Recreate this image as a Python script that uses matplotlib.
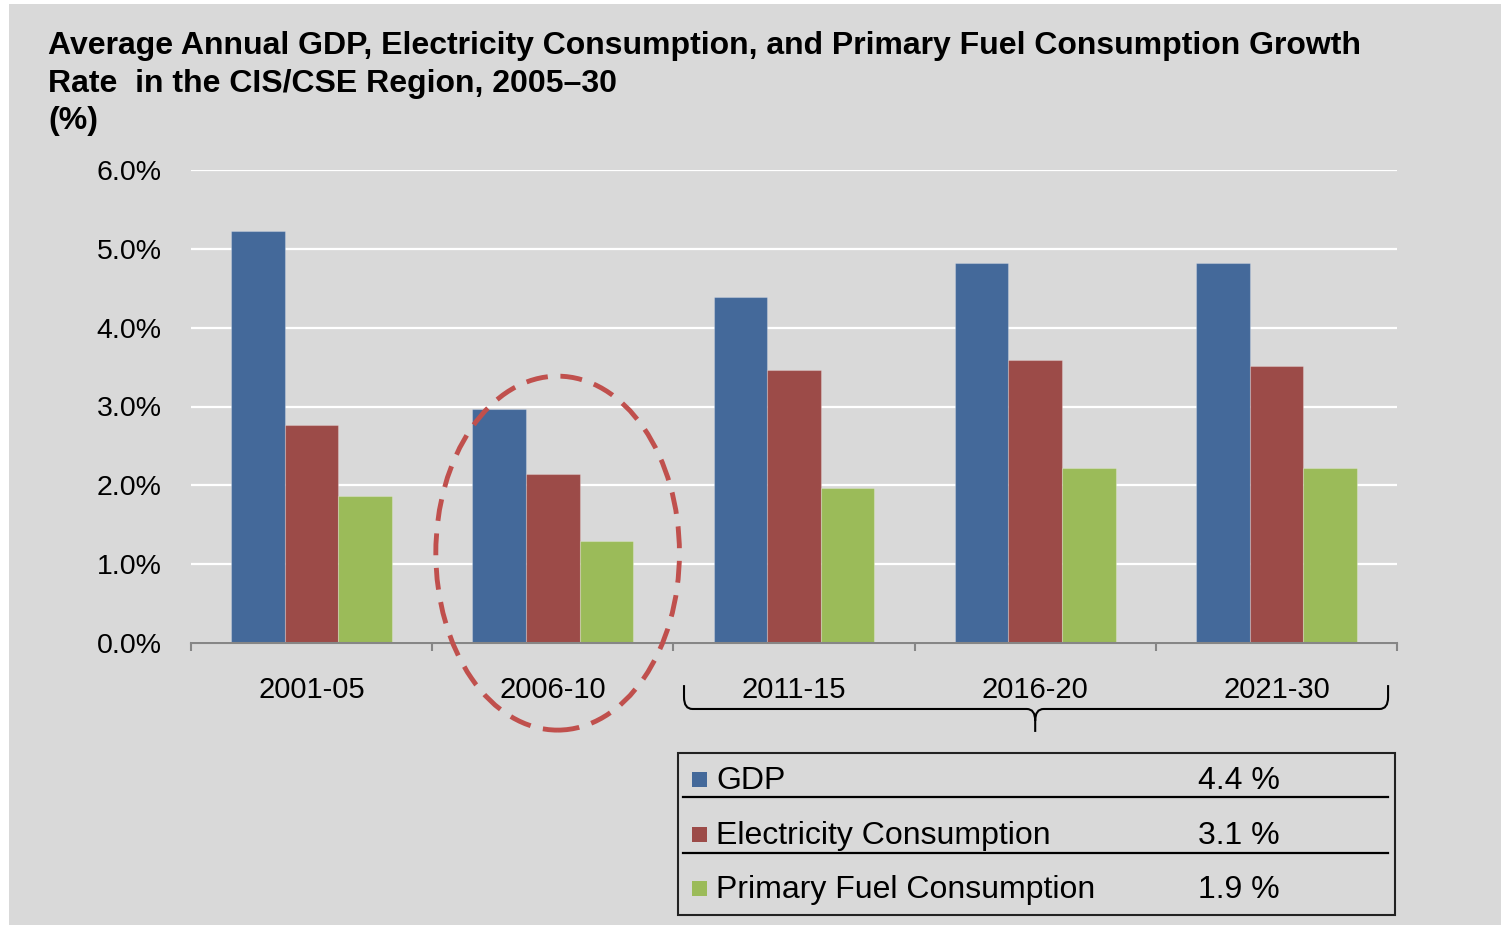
import matplotlib
matplotlib.use("Agg")
import matplotlib.pyplot as plt
import numpy as np
from matplotlib.patches import Rectangle, Ellipse, PathPatch
from matplotlib.path import Path
import matplotlib.transforms as mtransforms

# ---------------- data ----------------
periods = ["2001-05", "2006-10", "2011-15", "2016-20", "2021-30"]
gdp = [5.22, 2.97, 4.39, 4.82, 4.82]
electricity = [2.77, 2.14, 3.46, 3.59, 3.52]
primary_fuel = [1.87, 1.29, 1.97, 2.22, 2.22]
series_names = ["GDP", "Electricity Consumption", "Primary Fuel Consumption"]
avg_2011_30 = [4.4, 3.1, 1.9]
yticks = [0, 1, 2, 3, 4, 5, 6]

colors = ["#44699a", "#9c4b48", "#9bbb59"]
BG = "#d9d9d9"
W, H = 1501, 925

plt.rcParams['font.family'] = ['Liberation Sans', 'DejaVu Sans']

fig = plt.figure(figsize=(W / 100, H / 100), dpi=100, facecolor="white")

def fx(x):
    return x / W

def fy(y):
    return 1 - y / H

# gray background panel
fig.patches.append(Rectangle((fx(9), fy(925)), fx(1501) - fx(9), fy(4) - fy(925),
                             transform=fig.transFigure, facecolor=BG, edgecolor="none", zorder=-10))

# axes
ax_l, ax_r, ax_t, ax_b = 191, 1397, 170, 643
ax = fig.add_axes([fx(ax_l), fy(ax_b), fx(ax_r) - fx(ax_l), (ax_b - ax_t) / H])
ax.set_facecolor("none")
ax.set_zorder(2)

x = np.arange(len(periods))
bw = 0.222
for i, (vals, c) in enumerate(zip([gdp, electricity, primary_fuel], colors)):
    ax.bar(x + (i - 1) * bw, vals, width=bw, color=c, edgecolor=(1, 1, 1, 0.25),
           linewidth=0.8, zorder=3)

ax.set_xlim(-0.5, len(periods) - 0.5)
ax.set_ylim(0, 6)
ax.set_yticks(yticks)
ax.set_yticklabels([f"{v:.1f}%" for v in yticks], fontsize=20.5)
ax.tick_params(axis="y", length=0, pad=21)
ax.grid(axis="y", color="white", linewidth=1.6, zorder=1)
ax.set_axisbelow(True)

ax.set_xticks(np.arange(-0.5, len(periods), 1.0))
ax.set_xticklabels([])
ax.set_xticks(x, minor=True)
ax.set_xticklabels(periods, minor=True, fontsize=21)
ax.tick_params(axis="x", which="major", length=6, width=1.5, color="#868686", direction="out")
ax.tick_params(axis="x", which="minor", length=0, pad=23.5)

for s in ["top", "right", "left"]:
    ax.spines[s].set_visible(False)
ax.spines["bottom"].set_color("#868686")
ax.spines["bottom"].set_linewidth(1.5)
ax.spines["bottom"].set_zorder(4)

# dashed ellipse highlighting 2006-10
ell = Ellipse((1.02, 1.14), width=1.01, height=4.49, fill=False, edgecolor="#c0504d",
              linewidth=3.5, linestyle=(0, (4.5, 2.6)), clip_on=False, zorder=5)
ax.add_patch(ell)

# brace under 2011-30
trans = mtransforms.blended_transform_factory(ax.transData, ax.transAxes)
x0, x1, xm = 1.544, 4.463, 3.0
yt, yh, ytip = -0.089, -0.1395, -0.188
dx = 0.035
dy = 0.025
verts = [(x0, yt), (x0, yh + dy), (x0, yh), (x0 + dx, yh),
         (xm - dx, yh), (xm, yh), (xm, yh - dy), (xm, ytip),
         (xm, yh - dy), (xm, yh), (xm + dx, yh),
         (x1 - dx, yh), (x1, yh), (x1, yh + dy), (x1, yt)]
codes = [Path.MOVETO, Path.LINETO, Path.CURVE3, Path.CURVE3,
         Path.LINETO, Path.CURVE3, Path.CURVE3, Path.LINETO,
         Path.MOVETO, Path.CURVE3, Path.CURVE3,
         Path.LINETO, Path.CURVE3, Path.CURVE3, Path.LINETO]
brace = PathPatch(Path(verts, codes), transform=trans, fill=False, edgecolor="black",
                  linewidth=1.5, clip_on=False, zorder=5)
ax.add_patch(brace)

# title
fig.text(fx(48), fy(31), "Average Annual GDP, Electricity Consumption, and Primary Fuel Consumption Growth\n"
         "Rate  in the CIS/CSE Region, 2005\u201330\n(%)",
         fontsize=23, fontweight="bold", ha="left", va="top", linespacing=1.33)

# legend table
fig.patches.append(Rectangle((fx(678), fy(915)), fx(1395) - fx(678), fy(753) - fy(915),
                             transform=fig.transFigure, facecolor="none", edgecolor="#222222",
                             linewidth=1.5, zorder=3))
row_y = [781, 836, 890]
sep_y = [797, 853]
for sy in sep_y:
    fig.add_artist(plt.Line2D([fx(683), fx(1388)], [fy(sy), fy(sy)], transform=fig.transFigure,
                              color="black", linewidth=1.6))
for name, val, c, ry in zip(series_names, avg_2011_30, colors, row_y):
    fig.patches.append(Rectangle((fx(692), fy(ry + 6)), fx(707) - fx(692), fy(ry - 9) - fy(ry + 6),
                                 transform=fig.transFigure, facecolor=c, edgecolor="none", zorder=3))
    fig.text(fx(716), fy(ry), name, fontsize=23, ha="left", va="center")
    fig.text(fx(1198), fy(ry), f"{val:.1f} %", fontsize=23, ha="left", va="center")

fig.savefig("out.png", dpi=100, facecolor="white")
